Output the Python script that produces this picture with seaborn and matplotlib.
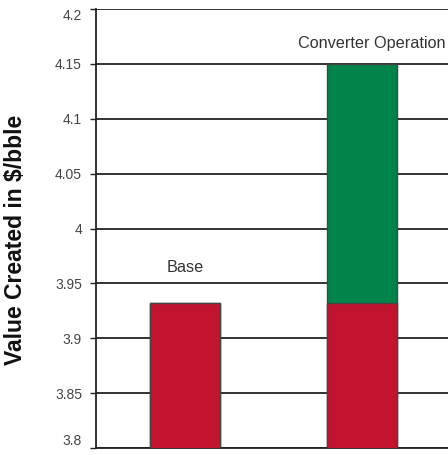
import matplotlib
matplotlib.use("Agg")
import matplotlib.pyplot as plt
import seaborn as sns
import pandas as pd

# data
categories = ["Base", "Converter Operation"]
base_values = [3.932, 3.932]
total_values = [3.932, 4.15]
y_ticks = [3.8, 3.85, 3.9, 3.95, 4.0, 4.05, 4.1, 4.15, 4.2]
y_tick_labels = ["3.8", "3.85", "3.9", "3.95", "4", "4.05", "4.1", "4.15", "4.2"]

sns.set_style("white")
plt.rcParams["font.family"] = ["Liberation Sans", "DejaVu Sans"]

df = pd.DataFrame({"category": categories, "base": base_values, "total": total_values})

fig = plt.figure(figsize=(4.48, 4.55), dpi=100)
ax = fig.add_axes([0.214, 0.0154, 0.786, 0.9648])

for y in y_ticks:
    ax.axhline(y, color="#222222", lw=1.3, zorder=0)

sns.barplot(data=df, x="category", y="total", color="#00844A", width=0.4, saturation=1,
            edgecolor="#444444", linewidth=1, ax=ax, zorder=2)
sns.barplot(data=df, x="category", y="base", color="#C2132F", width=0.4, saturation=1,
            edgecolor="#444444", linewidth=1, ax=ax, zorder=3)

ax.set_ylim(3.8, 4.2)
ax.set_xlim(-0.503, 1.486)
ax.set_yticks(y_ticks)
ax.set_yticklabels(y_tick_labels, color="#444444", fontsize=10)
ax.tick_params(axis="y", length=4, width=1, color="#222222", left=True, pad=6)
ax.get_yticklabels()[0].set_va("bottom")
ax.get_yticklabels()[-1].set_va("top")
ax.set_xticks([])
ax.set_xlabel("")
ax.set_ylabel("Value Created in $/bble", fontsize=16.5, fontweight="bold", color="#111111")
ax.yaxis.set_label_coords(-0.196, 0.474)

for side in ["top", "right"]:
    ax.spines[side].set_visible(False)
ax.spines["left"].set_color("#222222")
ax.spines["bottom"].set_color("#222222")
ax.spines["left"].set_linewidth(1.3)
ax.spines["bottom"].set_linewidth(1.3)

ax.text(0, 3.960, "Base", ha="center", va="baseline", fontsize=11.7, color="#333333")
ax.text(1.056, 4.1645, "Converter Operation", ha="center", va="baseline", fontsize=11.7, color="#333333")

plt.savefig("out.png", dpi=100)
